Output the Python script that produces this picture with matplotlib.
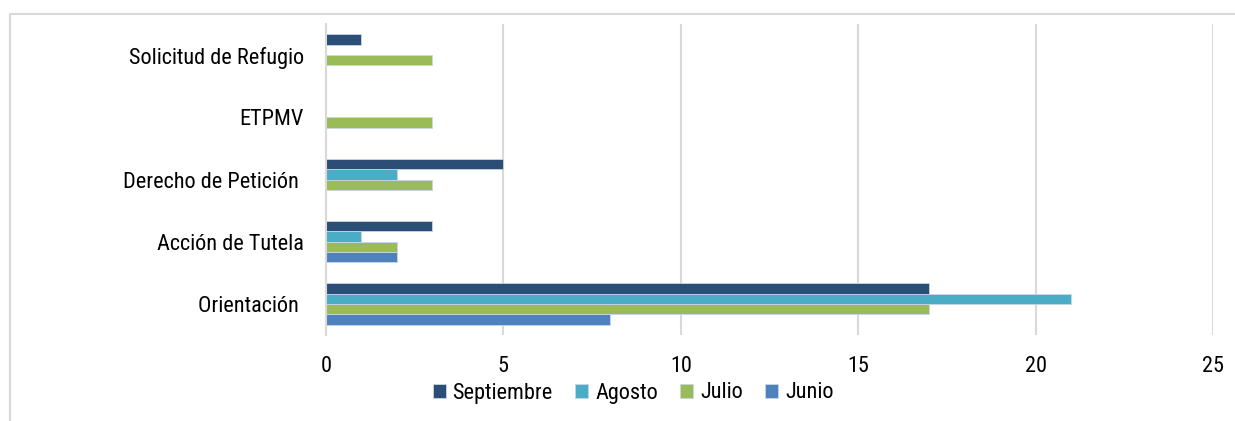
import numpy as np
import matplotlib.pyplot as plt
from matplotlib.patches import Rectangle

# categories from bottom to top
categories = ['Orientación ', 'Acción de Tutela', 'Derecho de Petición ', 'ETPMV', 'Solicitud de Refugio']
months = ['Junio', 'Julio', 'Agosto', 'Septiembre']
junio = [8, 2, 0, 0, 0]
julio = [17, 2, 3, 3, 3]
agosto = [21, 1, 2, 0, 0]
septiembre = [17, 3, 5, 0, 1]
colors = ['#4F81BD', '#9BBB59', '#4BACC6', '#2C4D75']
xticks = [0, 5, 10, 15, 20, 25]

plt.rcParams['font.family'] = ['Arial Narrow', 'Roboto Condensed', 'Archivo Narrow', 'DejaVu Sans']

fig = plt.figure(figsize=(12.35, 4.21), dpi=100)
ax = fig.add_axes([326 / 1235, 1 - 335 / 421, (1213 - 326) / 1235, (335 - 24) / 421])

# outer chart frame (cut off at right and bottom)
fig.patches.append(Rectangle((10 / 1235, -0.1), 1.2, 1 - 14 / 421 + 0.1, transform=fig.transFigure,
                             fill=False, edgecolor='#D9D9D9', linewidth=1.5))

y = np.arange(len(categories))
h = 0.167
series = [junio, julio, agosto, septiembre]
bars = []
for i, (vals, c, m) in enumerate(zip(series, colors, months)):
    b = ax.barh(y + (i - 1.5) * h, vals, height=h, color=c, edgecolor='#C9D6E6', linewidth=0.6, label=m)
    bars.append(b)

ax.set_xlim(0, 25)
ax.set_ylim(-0.5, len(categories) - 0.5)
ax.set_xticks(xticks)
ax.set_yticks(y)
ax.set_yticklabels(categories)
ax.tick_params(axis='both', length=0, labelsize=16)
ax.tick_params(axis='y', pad=16)
ax.tick_params(axis='x', pad=15)
ax.xaxis.grid(True, color='#D9D9D9', linewidth=1.5)
ax.set_axisbelow(True)
for s in ['top', 'right', 'bottom']:
    ax.spines[s].set_visible(False)
ax.spines['left'].set_color('#D9D9D9')
ax.spines['left'].set_linewidth(1.5)

fig.legend(bars[::-1], months[::-1], loc='center', bbox_to_anchor=(633 / 1235, 1 - 393 / 421), ncol=4,
           frameon=False, fontsize=16, handlelength=0.6, handleheight=0.6, handletextpad=0.3,
           columnspacing=1.0)

fig.savefig('out.png', dpi=100)
